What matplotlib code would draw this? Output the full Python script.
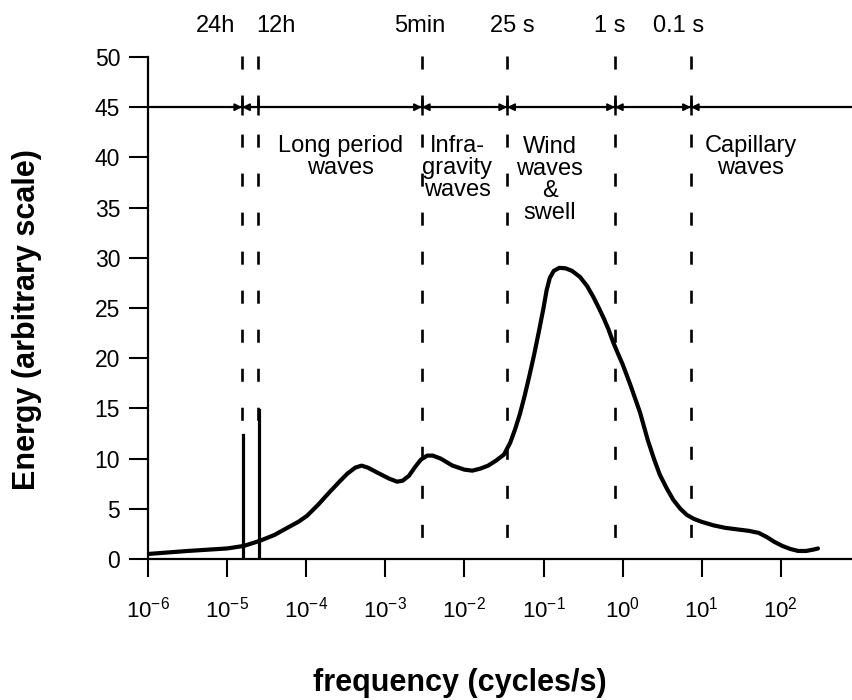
"""
Ocean wave energy spectrum (schematic) - energy vs frequency
"""

import numpy as np
import matplotlib
matplotlib.use('Agg')
import matplotlib.pyplot as plt
from matplotlib.ticker import NullLocator

plt.rcParams['font.family'] = 'Liberation Sans'
plt.rcParams['mathtext.fontset'] = 'custom'
plt.rcParams['mathtext.rm'] = 'Liberation Sans'
plt.rcParams['mathtext.it'] = 'Liberation Sans:italic'
plt.rcParams['lines.scale_dashes'] = False

#%%

# spectrum curve (log10 of frequency, energy)
log_freq = [-6.0, -5.5, -5.0, -4.79, -4.59, -4.4, -4.24, -4.1, -3.99, -3.85,
            -3.70, -3.58, -3.48, -3.38, -3.30, -3.22, -3.10, -2.95, -2.85, -2.78,
            -2.70, -2.62, -2.55, -2.47, -2.40, -2.30, -2.15, -2.00, -1.90, -1.80,
            -1.70, -1.60, -1.50, -1.42, -1.36, -1.30, -1.24, -1.18, -1.12, -1.06,
            -1.00, -0.96, -0.92, -0.87, -0.80, -0.72, -0.64, -0.54, -0.45, -0.37,
            -0.30, -0.24, -0.18, -0.12, -0.05, 0.0, 0.10, 0.22, 0.32, 0.40,
            0.47, 0.56, 0.64, 0.73, 0.81, 0.90, 1.00, 1.15, 1.30, 1.45,
            1.60, 1.72, 1.82, 1.92, 2.02, 2.12, 2.22, 2.32, 2.42, 2.47]
energy = [0.5, 0.8, 1.05, 1.3, 1.8, 2.4, 3.1, 3.7, 4.3, 5.4,
          6.7, 7.7, 8.5, 9.1, 9.3, 9.1, 8.6, 8.0, 7.7, 7.8,
          8.3, 9.2, 9.9, 10.3, 10.3, 10.0, 9.3, 8.9, 8.8, 9.0,
          9.3, 9.8, 10.4, 11.6, 12.9, 14.4, 16.2, 18.2, 20.3, 22.6,
          25.0, 26.8, 28.0, 28.7, 29.0, 28.95, 28.7, 28.1, 27.2, 26.1,
          25.0, 24.0, 22.9, 21.6, 20.3, 19.4, 17.3, 14.6, 11.8, 9.9,
          8.4, 7.0, 5.9, 5.0, 4.4, 4.0, 3.7, 3.35, 3.1, 2.95,
          2.8, 2.6, 2.2, 1.7, 1.3, 1.0, 0.8, 0.8, 0.95, 1.05]

# tidal spikes (24h and 12h)
tide_freq = [1.58e-5, 2.5e-5]
tide_energy = [12.4, 14.8]

# period boundaries
bound_labels = ['24h', '12h', '5min', '25 s', '1 s', '0.1 s']
bound_freq = [1.55e-5, 2.45e-5, 2.9e-3, 0.0347, 0.80, 7.3]
bound_arrows = [True, False, True, True, True, True]
label_logx = [-5.15, -4.38, -2.57, -1.40, -0.16, 0.71]

regions = ['Long period\nwaves', 'Infra-\ngravity\nwaves',
           'Wind\nwaves\n&\nswell', 'Capillary\nwaves']
region_logx = [-3.57, -2.09, -0.92, 1.62]
region_y = [40.0, 38.9, 37.7, 40.0]

#%%

fig = plt.figure(figsize=(8.52, 7.0), dpi=100)
ax = fig.add_axes([148 / 852, 141 / 700, 704 / 852, 502 / 700])

ax.plot(np.power(10.0, log_freq), energy, color='black', lw=3.0,
        solid_joinstyle='round', solid_capstyle='round')

for f, e in zip(tide_freq, tide_energy):
    ax.plot([f, f], [0, e], color='black', lw=2.3)

dash = (0, (9.4, 18.7))
for i, f in enumerate(bound_freq):
    bottom = 13.6 if i < 2 else 2.0
    ax.plot([f, f], [50.1, bottom], color='black', lw=1.9, linestyle=dash,
            clip_on=False)

ax.axhline(45, color='black', lw=1.6)

for f, arr in zip(bound_freq, bound_arrows):
    ax.plot([f], [45], marker='|', markersize=11, mew=1.8, color='black')
    if arr:
        for dx in (-10, 10):
            ax.annotate('', xy=(f, 45), xytext=(dx, 0), textcoords='offset points',
                        arrowprops=dict(arrowstyle='-|>', color='black', lw=1.2,
                                        mutation_scale=11, shrinkA=0, shrinkB=0))

for lab, lx in zip(bound_labels, label_logx):
    ax.text(10 ** lx, 53.1, lab, ha='center', va='center', fontsize=17,
            clip_on=False)

for txt, lx, ly in zip(regions, region_logx, region_y):
    ax.text(10 ** lx, ly, txt, ha='center', va='center', fontsize=17,
            linespacing=1.0)

ax.set_xscale('log')
ax.set_xlim(1e-6, 10 ** 2.9)
ax.set_ylim(0, 50)
ax.set_xticks([10.0 ** k for k in range(-6, 3)])
ax.set_xticklabels([r'$10^{%d}$' % k for k in range(-6, 3)])
ax.xaxis.set_minor_locator(NullLocator())
ax.set_yticks(range(0, 51, 5))

for s in ['top', 'right']:
    ax.spines[s].set_visible(False)
for s in ['left', 'bottom']:
    ax.spines[s].set_linewidth(1.6)

ax.tick_params(axis='y', direction='out', length=14, width=1.5, pad=6,
               labelsize=16.5)
ax.tick_params(axis='x', direction='out', length=13, width=1.5, pad=14,
               labelsize=16)

ax.set_xlabel('frequency (cycles/s)', fontsize=22, fontweight='bold')
ax.set_ylabel('Energy (arbitrary scale)', fontsize=22, fontweight='bold')
ax.xaxis.set_label_coords(0.443, -0.247)
ax.xaxis.label.set_va('center')
ax.yaxis.set_label_coords(-0.172, 0.476)
ax.yaxis.label.set_va('center')

fig.savefig('out.png', dpi=100)
